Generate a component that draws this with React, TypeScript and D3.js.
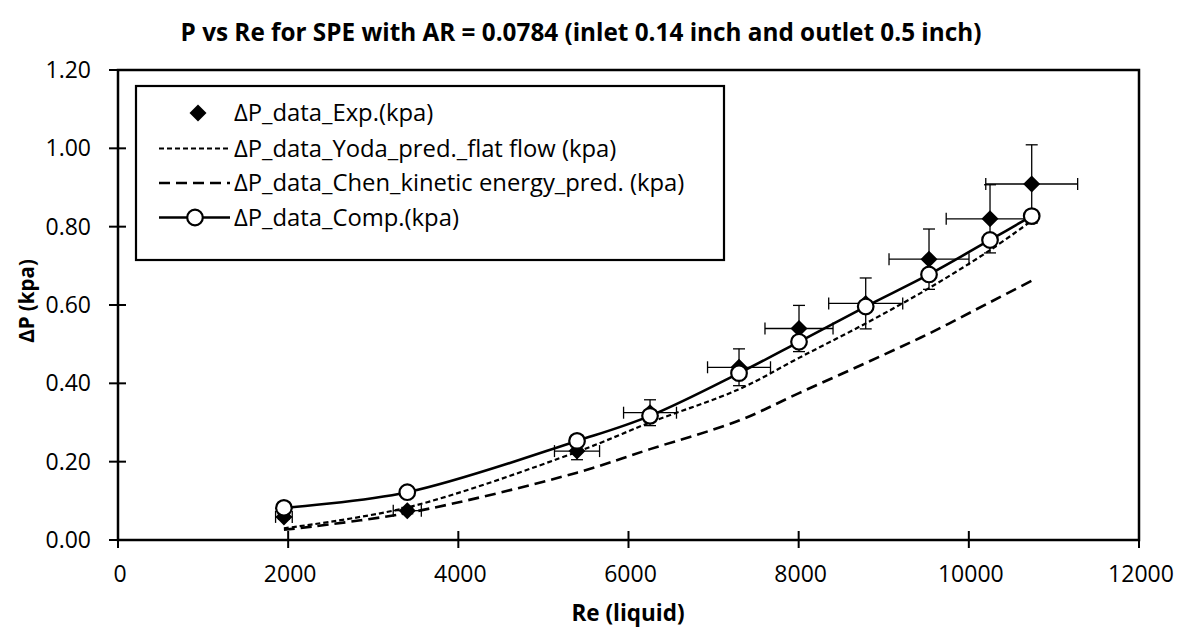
import React from "react";
import * as d3 from "d3";

const reValues = [1950, 3400, 5395, 6253, 7299, 8004, 8788, 9532, 10249, 10739];
const dpExp = [0.059, 0.075, 0.227, 0.325, 0.441, 0.54, 0.604, 0.717, 0.82, 0.909];
const dpYoda = [0.03, 0.083, 0.225, 0.3, 0.385, 0.465, 0.553, 0.643, 0.74, 0.815];
const dpChen = [0.026, 0.069, 0.172, 0.232, 0.305, 0.375, 0.452, 0.527, 0.607, 0.662];
const dpComp = [0.082, 0.122, 0.253, 0.317, 0.426, 0.506, 0.596, 0.678, 0.766, 0.827];
const reErr = [98, 165, 265, 311, 370, 400, 435, 470, 515, 540];
const dpErr = [0.006, 0.008, 0.022, 0.033, 0.047, 0.059, 0.065, 0.077, 0.087, 0.1];

const xTicks = [0, 2000, 4000, 6000, 8000, 10000, 12000];
const yTicks = [0, 0.2, 0.4, 0.6, 0.8, 1.0, 1.2];

const legendLabels = [
  "ΔP_data_Exp.(kpa)",
  "ΔP_data_Yoda_pred._flat flow (kpa)",
  "ΔP_data_Chen_kinetic energy_pred. (kpa)",
  "ΔP_data_Comp.(kpa)",
];

const title = "P vs Re for SPE with AR = 0.0784 (inlet 0.14 inch and outlet 0.5 inch)";
const xTitle = "Re (liquid)";
const yTitle = "ΔP (kpa)";

const W = 1182;
const H = 629;
const FONT = "'Open Sans', Lato, sans-serif";

export default function App() {
  const x = d3.scaleLinear().domain([0, 12000]).range([118, 1139]);
  const y = d3.scaleLinear().domain([0, 1.2]).range([540, 70]);

  const mk = (vals: number[]) =>
    d3
      .line<number>()
      .x((_, i) => x(reValues[i]))
      .y((v) => y(v))
      .curve(d3.curveCatmullRom.alpha(0.5))(vals) || "";

  const diamond = (cx: number, cy: number, r: number) =>
    `M${cx},${cy - r}L${cx + r},${cy}L${cx},${cy + r}L${cx - r},${cy}Z`;

  const cap = 6;
  const legendRows = [113, 148.5, 183, 217.5];

  return (
    <svg width={W} height={H} style={{ display: "block", position: "absolute", left: 0, top: 0 }} fontFamily={FONT}>
      <rect x={0} y={0} width={W} height={H} fill="#fff" />
      <text x={581} y={41} textAnchor="middle" fontWeight="bold" fontSize={24.3} fill="#000">
        {title}
      </text>

      {/* plot border */}
      <rect x={x(0)} y={y(1.2)} width={x(12000) - x(0)} height={y(0) - y(1.2)} fill="none" stroke="#000" strokeWidth={2.5} />

      {/* ticks */}
      {xTicks.map((t) => (
        <g key={"xt" + t}>
          <line x1={x(t)} x2={x(t)} y1={y(0) - 9} y2={y(0) + 8} stroke="#000" strokeWidth={2} />
          <text x={x(t) + 2} y={582} textAnchor="middle" fontSize={23} fill="#000">
            {t}
          </text>
        </g>
      ))}
      {yTicks.map((t) => (
        <g key={"yt" + t}>
          <line x1={x(0) - 9} x2={x(0) + 8} y1={y(t)} y2={y(t)} stroke="#000" strokeWidth={2} />
          <text x={91} y={y(t) + 8} textAnchor="end" fontSize={23} fill="#000">
            {t.toFixed(2)}
          </text>
        </g>
      ))}

      <text x={628} y={621} textAnchor="middle" fontWeight="bold" fontSize={22.5} fill="#000">
        {xTitle}
      </text>
      <text transform={`translate(34,${(y(0) + y(1.2)) / 2 - 4}) rotate(-90)`} textAnchor="middle" fontWeight="bold" fontSize={20.5} fill="#000">
        {yTitle}
      </text>

      {/* error bars */}
      {reValues.map((r, i) => (
        <g key={"err" + i} stroke="#000" strokeWidth={1.3}>
          <line x1={x(r - reErr[i])} x2={x(r + reErr[i])} y1={y(dpExp[i])} y2={y(dpExp[i])} />
          <line x1={x(r - reErr[i])} x2={x(r - reErr[i])} y1={y(dpExp[i]) - cap} y2={y(dpExp[i]) + cap} />
          <line x1={x(r + reErr[i])} x2={x(r + reErr[i])} y1={y(dpExp[i]) - cap} y2={y(dpExp[i]) + cap} />
          <line x1={x(r)} x2={x(r)} y1={y(dpExp[i] - dpErr[i])} y2={y(dpExp[i] + dpErr[i])} />
          <line x1={x(r) - cap} x2={x(r) + cap} y1={y(dpExp[i] - dpErr[i])} y2={y(dpExp[i] - dpErr[i])} />
          <line x1={x(r) - cap} x2={x(r) + cap} y1={y(dpExp[i] + dpErr[i])} y2={y(dpExp[i] + dpErr[i])} />
        </g>
      ))}
      {/* exp diamonds */}
      {reValues.map((r, i) => (
        <path key={"d" + i} d={diamond(x(r), y(dpExp[i]), 8.5)} fill="#000" />
      ))}

      {/* prediction lines */}
      <path d={mk(dpYoda)} fill="none" stroke="#000" strokeWidth={2.2} strokeDasharray="5,3" />
      <path d={mk(dpChen)} fill="none" stroke="#000" strokeWidth={2.6} strokeDasharray="11,6" />

      {/* comp */}
      <path d={mk(dpComp)} fill="none" stroke="#000" strokeWidth={2.6} />
      {reValues.map((r, i) => (
        <circle key={"c" + i} cx={x(r)} cy={y(dpComp[i])} r={7.8} fill="#fff" stroke="#000" strokeWidth={2.2} />
      ))}

      {/* legend */}
      <rect x={136} y={86} width={588} height={174} fill="#fff" stroke="#000" strokeWidth={2.2} />
      <path d={diamond(198, legendRows[0], 8.5)} fill="#000" />
      <line x1={159} x2={230} y1={legendRows[1]} y2={legendRows[1]} stroke="#000" strokeWidth={2.2} strokeDasharray="5,3" />
      <line x1={159} x2={230} y1={legendRows[2]} y2={legendRows[2]} stroke="#000" strokeWidth={2.6} strokeDasharray="11,6" />
      <line x1={159} x2={230} y1={legendRows[3]} y2={legendRows[3]} stroke="#000" strokeWidth={2.6} />
      <circle cx={195} cy={legendRows[3]} r={7.8} fill="#fff" stroke="#000" strokeWidth={2.2} />
      {legendLabels.map((l, i) => (
        <text key={"l" + i} x={234} y={legendRows[i] + 8} fontSize={23.8} fill="#000">
          {l}
        </text>
      ))}
    </svg>
  );
}
